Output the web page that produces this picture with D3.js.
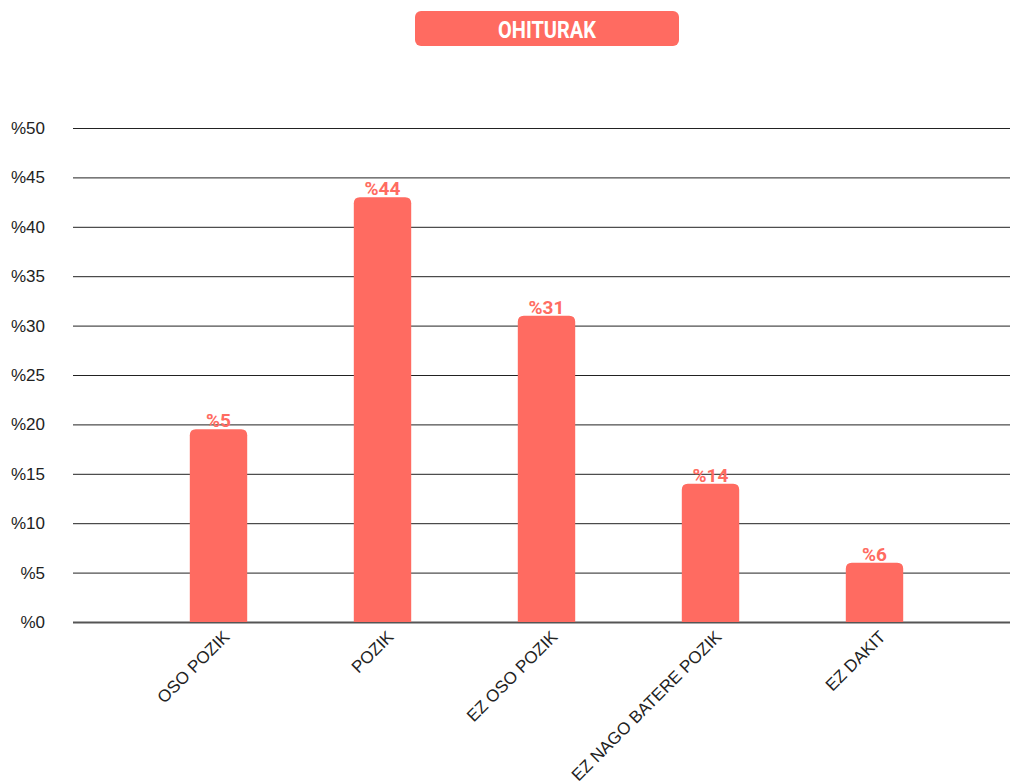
<!DOCTYPE html>
<html>
<head>
<meta charset="utf-8">
<script src="https://cdn.jsdelivr.net/npm/d3@7"></script>
<style>
  body { margin: 0; background: #fff; }
  svg { font-family: Roboto, "Liberation Sans", sans-serif; }
</style>
</head>
<body>
<svg width="1011" height="784"></svg>
<script>
const categories = ['OSO POZIK', 'POZIK', 'EZ OSO POZIK', 'EZ NAGO BATERE POZIK', 'EZ DAKIT'];
const values = [19.5, 43, 31, 14, 6];
const valueLabels = ['%5', '%44', '%31', '%14', '%6'];
const yTicks = [0, 5, 10, 15, 20, 25, 30, 35, 40, 45, 50];
const title = 'OHITURAK';

const red = '#ff6b61';
const axisFont = '"Liberation Sans", Arial, sans-serif';
const svg = d3.select('svg');

const y = d3.scaleLinear().domain([0, 50]).range([622, 128]);
const x = d3.scaleBand()
  .domain(categories)
  .range([136.5, 956.5])
  .paddingInner(0.65)
  .paddingOuter(0.325);

// title badge
svg.append('rect')
  .attr('x', 415).attr('y', 11)
  .attr('width', 264).attr('height', 35)
  .attr('rx', 6)
  .attr('fill', red);
svg.append('text')
  .attr('x', 547).attr('y', 38)
  .attr('text-anchor', 'middle')
  .attr('fill', '#fff')
  .attr('font-family', 'Roboto, sans-serif')
  .attr('font-size', 23)
  .attr('font-weight', 'bold')
  .attr('textLength', 98)
  .attr('lengthAdjust', 'spacingAndGlyphs')
  .text(title);

// grid + y labels
const yAxis = svg.append('g')
  .attr('transform', 'translate(73,0)')
  .call(d3.axisLeft(y).tickValues(yTicks).tickSize(-937).tickFormat(d => `%${d}`));
yAxis.select('.domain').remove();
yAxis.selectAll('.tick line')
  .attr('stroke', d => (d === 0 ? '#555' : '#222'))
  .attr('stroke-width', d => (d === 0 ? 2 : 1));
yAxis.selectAll('.tick text')
  .attr('x', -28)
  .attr('font-size', 17)
  .attr('fill', '#222')
  .attr('font-family', axisFont);

// bars with rounded tops
const r = 6;
svg.append('g')
  .selectAll('path')
  .data(categories)
  .enter()
  .append('path')
  .attr('fill', red)
  .attr('d', (d, i) => {
    const x0 = x(d);
    const w = x.bandwidth();
    const top = y(values[i]);
    const base = y(0);
    return `M${x0},${base}V${top + r}Q${x0},${top} ${x0 + r},${top}H${x0 + w - r}Q${x0 + w},${top} ${x0 + w},${top + r}V${base}Z`;
  });

// value labels
svg.append('g')
  .selectAll('text')
  .data(categories)
  .enter()
  .append('text')
  .attr('x', d => x(d) + x.bandwidth() / 2)
  .attr('y', (d, i) => y(values[i]) - 2)
  .attr('text-anchor', 'middle')
  .attr('fill', red)
  .attr('font-family', 'Roboto, sans-serif')
  .attr('font-size', 19)
  .attr('font-weight', 'bold')
  .text((d, i) => valueLabels[i]);

// x labels
svg.append('g')
  .selectAll('text')
  .data(categories)
  .enter()
  .append('text')
  .attr('transform', d => `translate(${x(d) + x.bandwidth() / 2 + 12},${638}) rotate(-45)`)
  .attr('text-anchor', 'end')
  .attr('font-size', 17)
  .attr('font-family', axisFont)
  .attr('fill', '#222')
  .text(d => d);
</script>
</body>
</html>
